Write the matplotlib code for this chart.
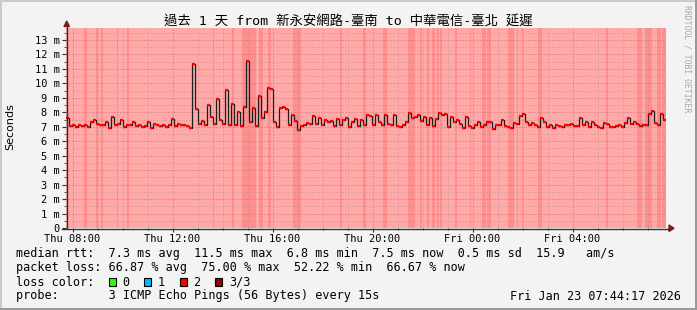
import numpy as np
import matplotlib.pyplot as plt
from matplotlib.patches import Rectangle, Polygon
from matplotlib.lines import Line2D
from matplotlib.ticker import FixedLocator, MultipleLocator

plt.rcParams['font.family'] = ['DejaVu Sans Mono', 'Noto Sans CJK TC']

W, H = 697, 310

# 时间轴: 从周四 00:00 起的小时数
start_h = 7 + 44 / 60 + 17 / 3600
span_h = 24.0

# 中位延迟 (ms), 每个点约 7.2 分钟
median_ms = [
    7.6, 7.05, 7.1, 7.0, 7.15, 7.05, 7.1, 7.0, 7.35, 7.5,
    7.2, 7.1, 7.15, 7.3, 6.95, 7.65, 7.1, 7.2, 7.5, 7.0,
    7.15, 7.1, 7.3, 7.05, 7.1, 7.0, 7.05, 7.35, 6.95, 7.2,
    7.15, 7.05, 7.1, 7.0, 7.1, 7.55, 7.05, 7.2, 7.1, 7.15,
    7.05, 6.9, 11.35, 8.25, 7.2, 7.4, 7.15, 8.5, 7.7, 7.2,
    8.95, 7.5, 7.2, 9.55, 7.1, 8.55, 7.15, 8.05, 7.05, 8.4,
    11.55, 7.3, 8.3, 7.05, 9.1, 7.6, 8.0, 9.65, 9.6, 7.3,
    7.0, 8.3, 8.35, 8.2, 7.1, 7.8, 7.4, 6.8, 7.05, 7.1,
    7.25, 7.2, 7.75, 7.2, 7.6, 7.1, 7.5, 7.35, 7.4, 7.05,
    7.55, 7.15, 7.45, 7.6, 7.0, 7.35, 7.55, 7.05, 7.45, 7.15,
    7.8, 7.75, 7.1, 7.8, 7.35, 7.1, 7.8, 7.2, 7.1, 7.8,
    7.05, 7.0, 7.15, 7.3, 7.95, 7.6, 7.7, 7.8, 7.4, 7.7,
    7.1, 7.6, 7.05, 7.55, 7.95, 7.8, 7.85, 7.0, 7.7, 7.3,
    7.5, 7.2, 6.9, 7.7, 7.05, 6.9, 7.1, 7.3, 7.0, 7.1,
    7.3, 7.35, 6.85, 7.1, 7.1, 7.45, 7.05, 7.0, 6.9, 7.25,
    7.2, 7.75, 7.85, 7.3, 7.1, 7.25, 7.1, 7.0, 7.6, 7.3,
    7.0, 7.1, 6.95, 7.1, 7.05, 7.0, 7.1, 7.1, 7.2, 7.05,
    7.05, 7.6, 7.1, 7.3, 7.0, 7.35, 7.1, 7.0, 6.95, 7.25,
    7.2, 7.0, 7.0, 7.05, 7.1, 7.0, 7.25, 7.6, 7.2, 7.3,
    7.2, 7.05, 7.1, 7.1, 7.9, 8.1, 7.25, 7.1, 7.85, 7.45,
]

# 丢包较高的时段 (距起点的小时数)
high_loss_spans = [
    (0.72, 0.84), (1.20, 1.28), (1.40, 1.48), (2.04, 2.08), (2.44, 2.52),
    (5.88, 5.92), (6.64, 6.72), (7.04, 7.60), (7.72, 7.88), (8.08, 8.20),
    (9.08, 9.40), (10.96, 11.04), (11.88, 12.00), (12.68, 12.84),
    (13.68, 13.96), (14.16, 14.24), (14.44, 14.52), (14.64, 14.76),
    (14.84, 14.92), (14.96, 15.04), (15.56, 15.64), (16.16, 16.20),
    (16.64, 16.80), (16.84, 17.00), (17.68, 17.92), (18.04, 18.08),
    (18.24, 18.28), (18.88, 19.04), (21.60, 21.68), (22.84, 23.04),
    (23.16, 23.44), (23.64, 23.80), (23.84, 24.00),
]

tick_hours = [8, 12, 16, 20, 24, 28]
tick_labels = ['Thu 08:00', 'Thu 12:00', 'Thu 16:00', 'Thu 20:00', 'Fri 00:00', 'Fri 04:00']
ytick_vals = list(range(0, 14))
ytick_labels = ['0'] + ['%d m' % v for v in range(1, 14)]

title = '過去 1 天 from 新永安網路-臺南 to 中華電信-臺北 延遲'
legend_rows = [
    'median rtt:  7.3 ms avg  11.5 ms max  6.8 ms min  7.5 ms now  0.5 ms sd  15.9   am/s',
    'packet loss: 66.87 % avg  75.00 % max  52.22 % min  66.67 % now',
    None,
    'probe:       3 ICMP Echo Pings (56 Bytes) every 15s',
]
loss_names = ['0', '1', '2', '3/3']
loss_colors = ['#26ff00', '#00b8ff', '#ff0000', '#9b0000']
stamp = 'Fri Jan 23 07:44:17 2026'


def fx(px):
    return px / W


def fy(py):
    return 1 - py / H


fig = plt.figure(figsize=(W / 100, H / 100), dpi=100)
fig.patch.set_facecolor('#f3f3f3')

ax = fig.add_axes([fx(66), fy(228), 600 / W, 200 / H])
ax.set_facecolor('white')
ax.set_xlim(start_h, start_h + span_h)
ax.set_ylim(0, 200 / 14.46)

# 背景丢包色
ax.axvspan(start_h, start_h + span_h, color='#ffa9a9', lw=0, zorder=1)
for a, b in high_loss_spans:
    ax.axvspan(start_h + a, start_h + b, color='#ff8e8e', lw=0, zorder=1)

# 延迟曲线
vals = np.array(median_ms)
step_h = span_h / len(vals)
edges = start_h + step_h * np.arange(len(vals) + 1)
ax.step(edges, np.append(vals, vals[-1]), where='post', color='#1e1e1e', lw=0.9, zorder=3)
ax.hlines(vals, edges[:-1] + step_h * 0.1, edges[1:] - step_h * 0.1,
          color='#ff0000', lw=1.6, zorder=4)

# 网格
ax.xaxis.set_major_locator(FixedLocator(tick_hours))
ax.xaxis.set_minor_locator(MultipleLocator(1))
ax.set_xticklabels(tick_labels)
ax.yaxis.set_major_locator(FixedLocator(ytick_vals))
ax.yaxis.set_minor_locator(MultipleLocator(0.5))
ax.set_yticklabels(ytick_labels)
ax.grid(which='minor', color='#b48a8a', lw=0.72, ls=(0, (1, 2)), alpha=0.7)
ax.grid(which='major', color='#c86a6a', lw=0.72, ls=(0, (1, 2)), alpha=0.9)
ax.set_axisbelow(False)
ax.tick_params(which='major', length=3, width=0.8, color='#333333', labelsize=7.5, pad=1.5)
ax.tick_params(which='minor', length=1.5, width=0.6, color='#333333')
for s in ax.spines.values():
    s.set_visible(False)

# 坐标轴和箭头
fig.add_artist(Line2D([fx(66.5), fx(66.5)], [fy(228), fy(24)], color='#333333', lw=1))
fig.add_artist(Line2D([fx(62), fx(670)], [fy(228.5), fy(228.5)], color='#333333', lw=1))
fig.add_artist(Polygon([(fx(64), fy(26.5)), (fx(69.5), fy(26.5)), (fx(66.7), fy(21))],
                       closed=True, color='#7f1f1f'))
fig.add_artist(Polygon([(fx(669), fy(225)), (fx(669), fy(231.5)), (fx(674), fy(228.3))],
                       closed=True, color='#7f1f1f'))

# 外框阴影
fig.add_artist(Rectangle((0, fy(2)), 1, 2 / H, color='#cbcbcb', lw=0))
fig.add_artist(Rectangle((0, 0), 2 / W, 1, color='#cbcbcb', lw=0))
fig.add_artist(Rectangle((0, 0), 1, 2 / H, color='#999999', lw=0))
fig.add_artist(Rectangle((fx(695), 0), 2 / W, 1, color='#999999', lw=0))

# 文字
fig.text(fx(348), fy(22), title, ha='center', va='center', fontsize=9.6, color='#000000')
fig.text(fx(10), fy(127), 'Seconds', family='DejaVu Sans', rotation=90,
         ha='center', va='center', fontsize=8)
fig.text(fx(687), fy(5), 'RRDTOOL / TOBI OETIKER', rotation=270, ha='center', va='top',
         fontsize=5.9, color='#a8a8a8')

cw = 7.1
left = 16
row_y = [254, 268, 282, 296]
for txt, y in zip(legend_rows, row_y):
    if txt is not None:
        fig.text(fx(left), fy(y), txt, ha='left', va='center', fontsize=8.5)

lead = 'loss color:  '
fig.text(fx(left), fy(row_y[2]), lead, ha='left', va='center', fontsize=8.5)
col = len(lead)
for name, c in zip(loss_names, loss_colors):
    bx = left + col * cw
    fig.add_artist(Rectangle((fx(bx + 0.3), fy(285.8)), 7.2 / W, 7.5 / H,
                             facecolor=c, edgecolor='black', lw=0.8))
    fig.text(fx(left + (col + 2) * cw), fy(row_y[2]), name, ha='left', va='center', fontsize=8.5)
    col += 2 + len(name) + 2

fig.text(fx(681), fy(row_y[3]), stamp, ha='right', va='center', fontsize=8.5)

fig.savefig('out.png', dpi=100, facecolor=fig.get_facecolor())
